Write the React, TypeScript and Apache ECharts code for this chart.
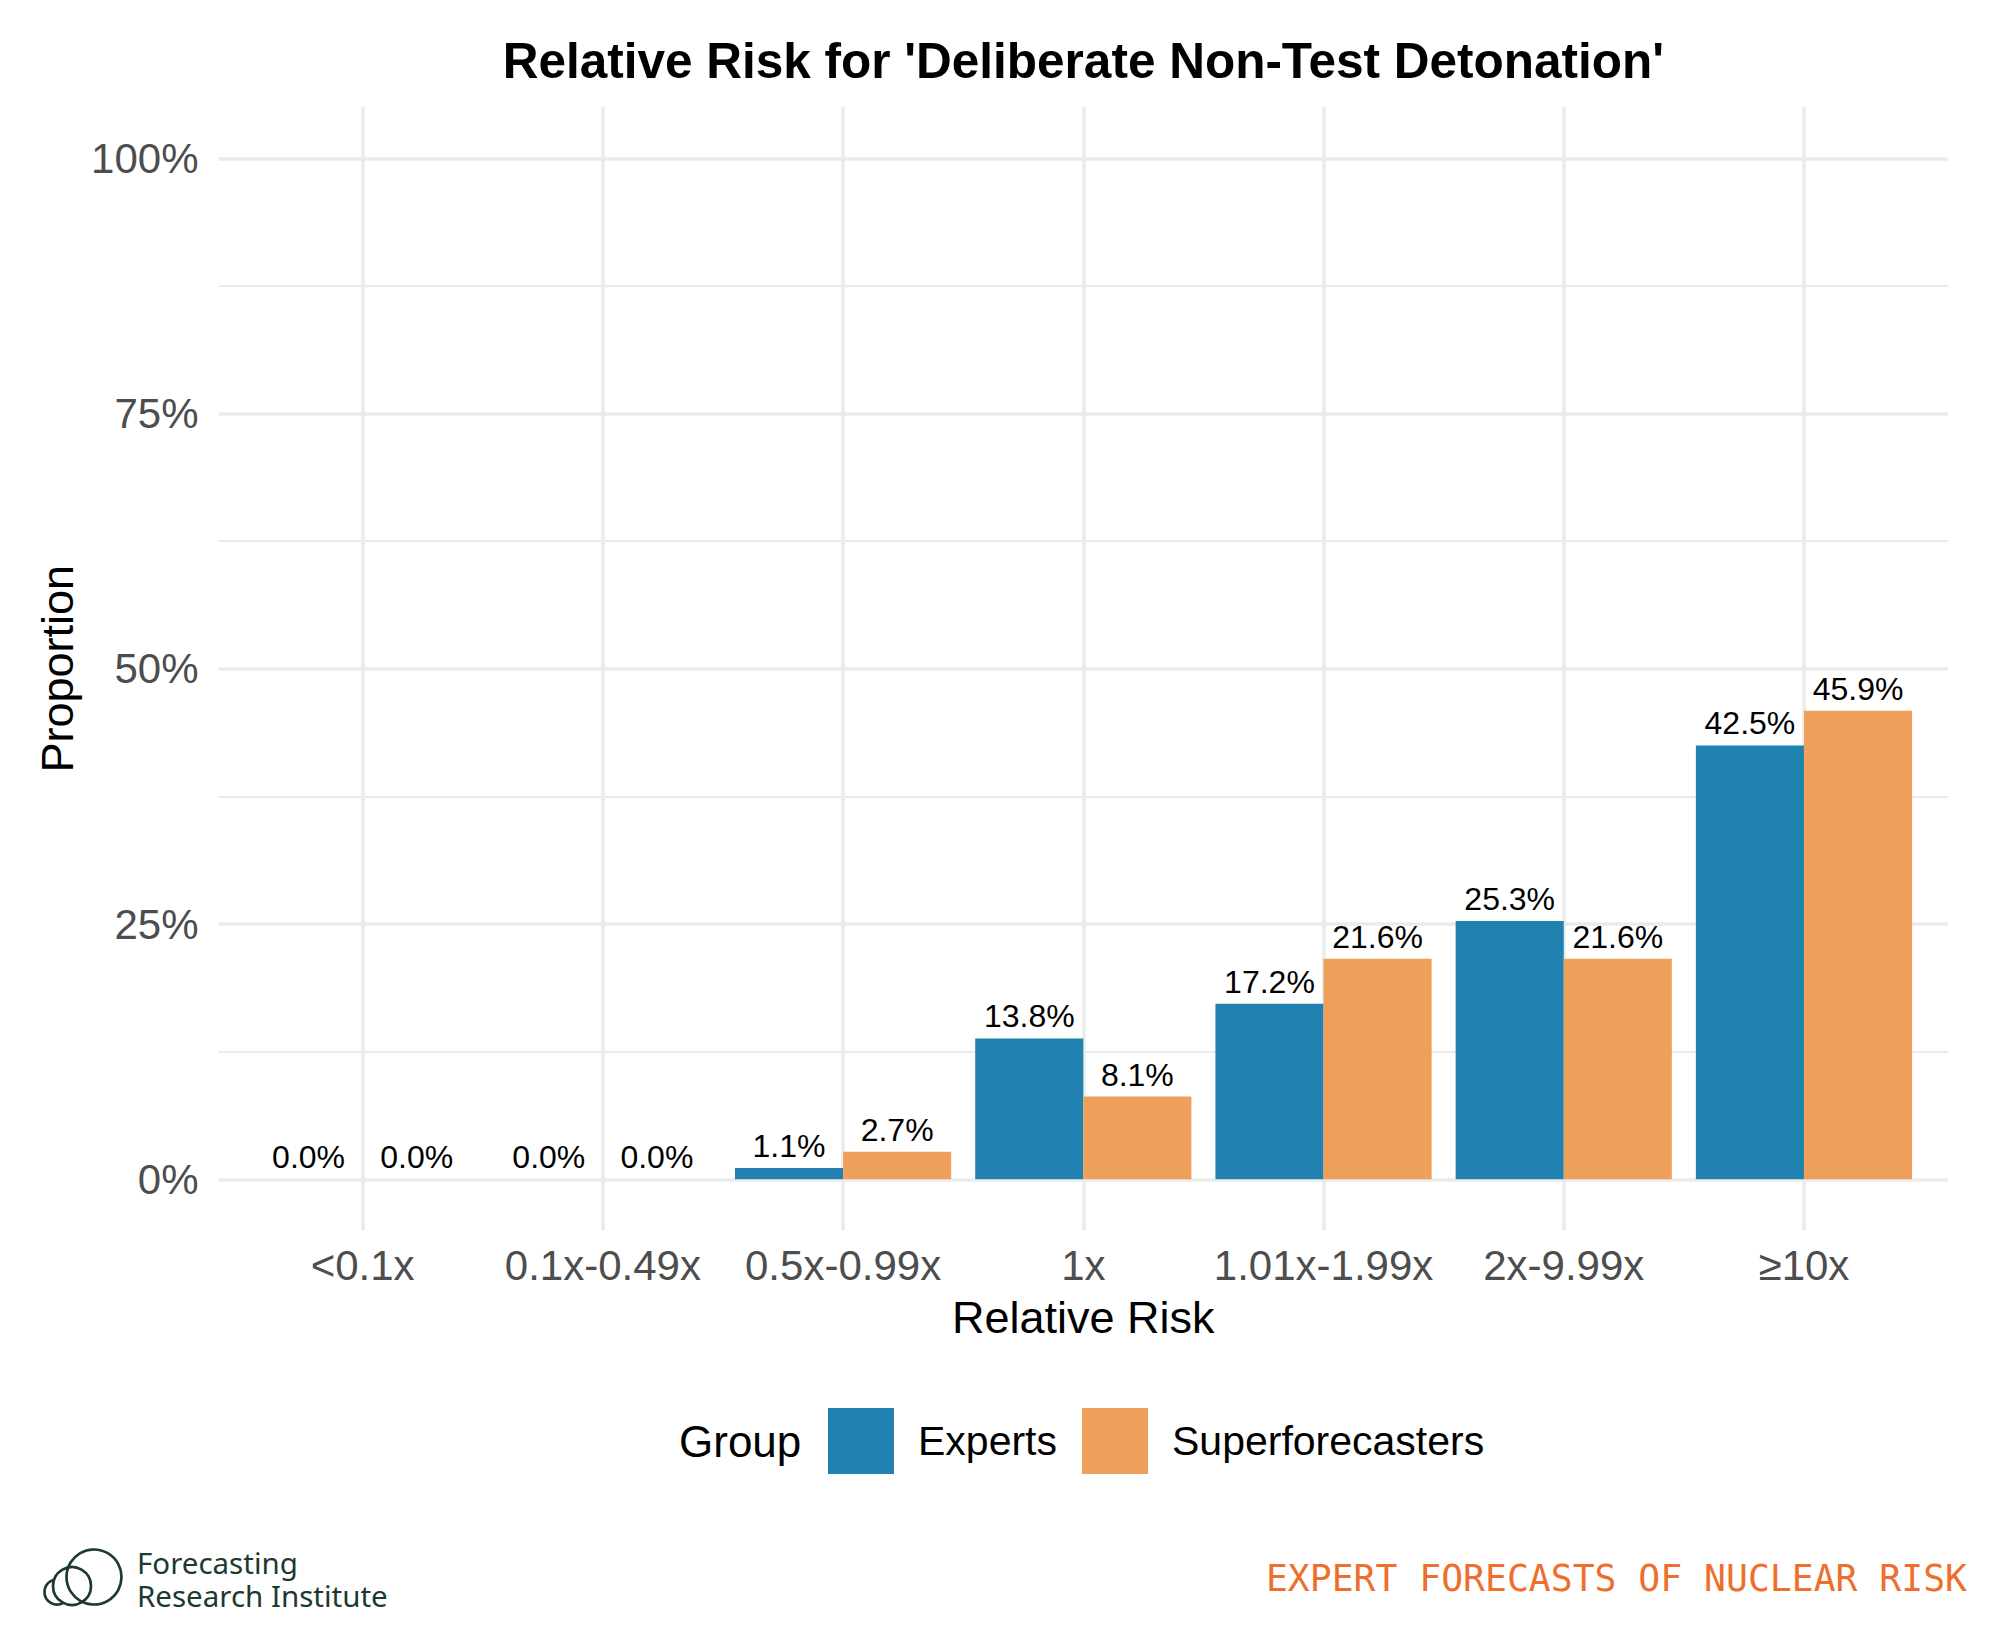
import React, { useEffect, useRef } from "react";
import * as echarts from "echarts";

// ---- data ----
const categories = ["<0.1x", "0.1x-0.49x", "0.5x-0.99x", "1x", "1.01x-1.99x", "2x-9.99x", "≥10x"];
const experts = [0, 0, 1.1, 13.8, 17.2, 25.3, 42.5];
const superforecasters = [0, 0, 2.7, 8.1, 21.6, 21.6, 45.9];
const groupNames = ["Experts", "Superforecasters"];
const groupColors = ["#2181B1", "#EEA05A"];
const yMin = 0;
const yMax = 100;
const yStep = 25;

// ---- layout ----
const W = 1989;
const H = 1640;
const PANEL_L = 218.5;
const PANEL_R = 1948.1;
const Y_TOP = 158.3; // 100%
const Y_ZERO = 1179.3; // 0%
const UNIT = (PANEL_R - PANEL_L) / 7.2; // one category step (0.6 padding each side)
const PANEL_H = Y_ZERO - Y_TOP;
const GRID_COLOR = "#EBEBEB";
const SANS = "'Liberation Sans', Arial, Helvetica, sans-serif";
const INK = "#1C3A2E";

export default function App() {
  const ref = useRef<HTMLDivElement>(null);

  useEffect(() => {
    document.body.style.margin = "0";
    document.body.style.overflow = "hidden";
    if (!ref.current) return;
    const chart = echarts.init(ref.current, null, { renderer: "svg" });

    const labelStyle = {
      show: true,
      position: "top" as const,
      distance: 6,
      color: "#000",
      fontSize: 32,
      fontFamily: SANS,
      formatter: (p: any) => `${Number(p.value).toFixed(1)}%`,
    };

    chart.setOption({
      animation: false,
      backgroundColor: "#ffffff",
      textStyle: { fontFamily: SANS },
      grid: [
        // horizontal grid lines span the full panel
        { left: PANEL_L, top: Y_TOP, width: PANEL_R - PANEL_L, height: PANEL_H },
        // vertical grid lines through category centres, panel height incl. padding
        {
          left: PANEL_L + 0.6 * UNIT,
          top: Y_TOP - 0.05 * PANEL_H,
          width: 6 * UNIT,
          height: 1.1 * PANEL_H,
        },
        // bars
        { left: PANEL_L + 0.1 * UNIT, top: Y_TOP, width: 7 * UNIT, height: PANEL_H },
      ],
      xAxis: [
        { gridIndex: 0, type: "value", min: 0, max: 1, show: false },
        {
          gridIndex: 1,
          type: "category",
          data: categories,
          boundaryGap: false,
          axisLine: { show: false },
          axisTick: { show: false },
          axisLabel: { show: false },
          splitLine: { show: true, interval: 0, lineStyle: { color: GRID_COLOR, width: 3.6 } },
        },
        {
          gridIndex: 2,
          type: "category",
          data: categories,
          axisLine: { show: false },
          axisTick: { show: false },
          splitLine: { show: false },
          axisLabel: {
            interval: 0,
            margin: 65,
            fontSize: 42,
            color: "#4D4D4D",
            fontFamily: SANS,
          },
        },
      ],
      yAxis: [
        {
          gridIndex: 0,
          type: "value",
          min: yMin,
          max: yMax,
          interval: yStep,
          axisLine: { show: false },
          axisTick: { show: false },
          axisLabel: {
            margin: 20,
            fontSize: 42,
            color: "#4D4D4D",
            fontFamily: SANS,
            formatter: (v: number) => `${v}%`,
          },
          splitLine: { show: true, lineStyle: { color: GRID_COLOR, width: 3.6 } },
          minorTick: { show: false, splitNumber: 2 },
          minorSplitLine: { show: true, lineStyle: { color: GRID_COLOR, width: 1.8 } },
        },
        { gridIndex: 1, type: "value", min: 0, max: 1, show: false },
        { gridIndex: 2, type: "value", min: yMin, max: yMax, show: false },
      ],
      legend: {
        data: groupNames,
        left: 828,
        top: 1408,
        padding: 0,
        orient: "horizontal",
        icon: "rect",
        itemWidth: 66,
        itemHeight: 66,
        itemGap: 25,
        selectedMode: false,
        textStyle: { fontSize: 41, color: "#000", fontFamily: SANS, padding: [0, 0, 0, 19] },
      },
      series: [
        {
          name: groupNames[0],
          type: "bar",
          xAxisIndex: 2,
          yAxisIndex: 2,
          data: experts,
          barGap: "0%",
          barCategoryGap: "10%",
          itemStyle: { color: groupColors[0] },
          label: labelStyle,
        },
        {
          name: groupNames[1],
          type: "bar",
          xAxisIndex: 2,
          yAxisIndex: 2,
          data: superforecasters,
          barGap: "0%",
          barCategoryGap: "10%",
          itemStyle: { color: groupColors[1] },
          label: labelStyle,
        },
      ],
      graphic: [
        {
          type: "text",
          x: (PANEL_L + PANEL_R) / 2,
          y: 60,
          style: {
            text: "Relative Risk for 'Deliberate Non-Test Detonation'",
            fill: "#000",
            fontSize: 49.5,
            fontWeight: "bold",
            fontFamily: SANS,
            align: "center",
            verticalAlign: "middle",
          },
        },
        {
          type: "text",
          x: 57,
          y: (Y_TOP + Y_ZERO) / 2,
          rotation: Math.PI / 2,
          style: {
            text: "Proportion",
            fill: "#000",
            fontSize: 45,
            fontFamily: SANS,
            align: "center",
            verticalAlign: "middle",
          },
        },
        {
          type: "text",
          x: (PANEL_L + PANEL_R) / 2,
          y: 1317,
          style: {
            text: "Relative Risk",
            fill: "#000",
            fontSize: 45,
            fontFamily: SANS,
            align: "center",
            verticalAlign: "middle",
          },
        },
        {
          type: "text",
          x: 679,
          y: 1441,
          style: {
            text: "Group",
            fill: "#000",
            fontSize: 44,
            fontFamily: SANS,
            align: "left",
            verticalAlign: "middle",
          },
        },
        // Forecasting Research Institute mark
        {
          type: "group",
          children: [
            {
              type: "circle",
              shape: { cx: 57, cy: 1592, r: 12.5 },
              style: { fill: "#fff", stroke: INK, lineWidth: 2.7 },
            },
            {
              type: "circle",
              shape: { cx: 72, cy: 1586, r: 19 },
              style: { fill: "#fff", stroke: INK, lineWidth: 2.7 },
            },
            {
              type: "circle",
              shape: { cx: 94, cy: 1577, r: 27.5 },
              style: { fill: "none", stroke: INK, lineWidth: 2.7 },
            },
            {
              type: "text",
              x: 137,
              y: 1562,
              style: {
                text: "Forecasting",
                fill: INK,
                fontSize: 29.5,
                lineHeight: 29,
                fontFamily: "'Noto Sans', Lato, sans-serif",
                align: "left",
                verticalAlign: "middle",
              },
            },
            {
              type: "text",
              x: 137,
              y: 1595,
              style: {
                text: "Research Institute",
                fill: INK,
                fontSize: 29.5,
                lineHeight: 29,
                fontFamily: "'Noto Sans', Lato, sans-serif",
                align: "left",
                verticalAlign: "middle",
              },
            },
          ],
        },
        {
          type: "text",
          x: 1967,
          y: 1578,
          style: {
            text: "EXPERT FORECASTS OF NUCLEAR RISK",
            fill: "#EE6F2D",
            fontSize: 36.4,
            fontFamily: "'DejaVu Sans Mono', 'Liberation Mono', monospace",
            align: "right",
            verticalAlign: "middle",
          },
        },
      ],
    });

    return () => chart.dispose();
  }, []);

  return <div ref={ref} style={{ width: W, height: H }} />;
}
